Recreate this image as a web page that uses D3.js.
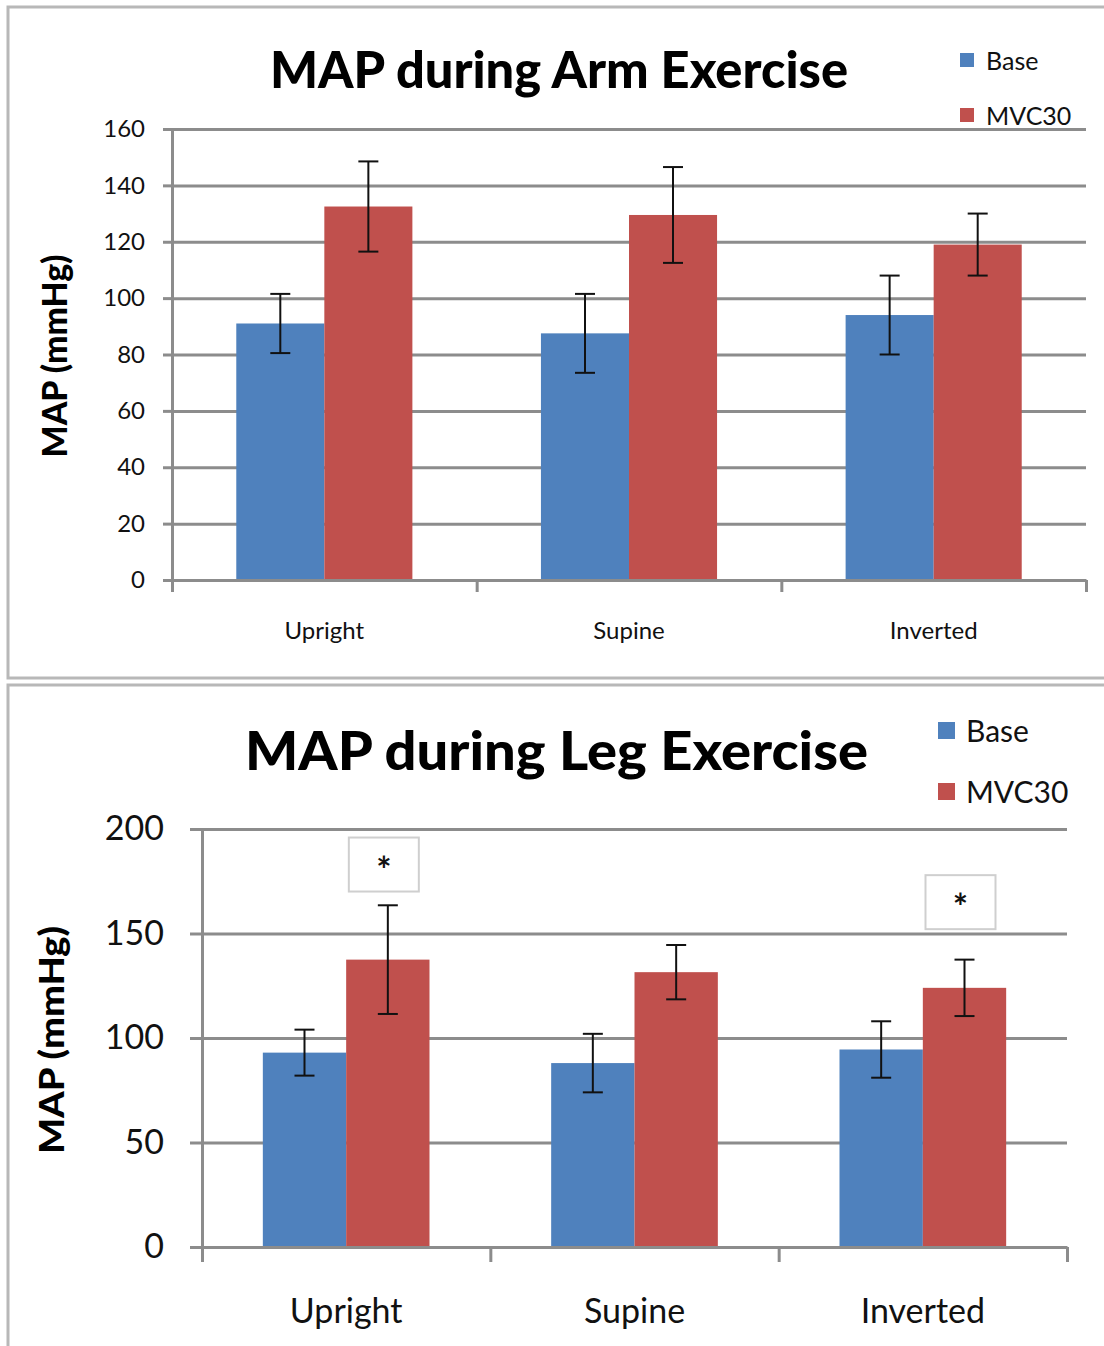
<!DOCTYPE html>
<html>
<head>
<meta charset="utf-8">
<script src="https://cdn.jsdelivr.net/npm/d3@7"></script>
<style>
  body { margin: 0; background: #fff; }
  svg { display: block; font-family: Lato, "Open Sans", sans-serif; }
</style>
</head>
<body>
<svg id="chart" width="1104" height="1346"></svg>
<script>
const categories = ["Upright", "Supine", "Inverted"];
const seriesNames = ["Base", "MVC30"];
const seriesColors = ["#4f81bd", "#c0504d"];

// arm exercise panel
const armBase = [91, 87.5, 94];
const armBaseErr = [10.5, 14, 14];
const armMvc = [132.5, 129.5, 119];
const armMvcErr = [16, 17, 11];
const armTicks = [0, 20, 40, 60, 80, 100, 120, 140, 160];

// leg exercise panel
const legBase = [93, 88, 94.5];
const legBaseErr = [11, 14, 13.5];
const legMvc = [137.5, 131.5, 124];
const legMvcErr = [26, 13, 13.5];
const legTicks = [0, 50, 100, 150, 200];
const legStars = [["Upright", 183], ["Inverted", 165]];

const fontFamily = "Lato, 'Open Sans', sans-serif";
const gridColor = "#8c8c8c";
const svg = d3.select("#chart");

const drawPanel = opt => {
  const g = svg.append("g");

  g.append("rect")
    .attr("x", opt.frame[0]).attr("y", opt.frame[1])
    .attr("width", opt.frame[2]).attr("height", opt.frame[3])
    .attr("fill", "none").attr("stroke", "#b8b8b8").attr("stroke-width", 3);

  const x = d3.scaleBand().domain(categories).range([opt.left, opt.right]);
  const xs = d3.scaleBand().domain(seriesNames).range([0, x.bandwidth()]).paddingOuter(0.73);
  const xEdge = d3.scaleLinear().domain([0, categories.length]).range([opt.left, opt.right]);
  const y = d3.scaleLinear().domain([0, d3.max(opt.ticks)]).range([opt.bottom, opt.top]);

  // gridlines
  g.append("g")
    .attr("transform", `translate(${opt.left},0)`)
    .call(d3.axisLeft(y).tickValues(opt.ticks).tickSize(-(opt.right - opt.left)).tickFormat(""))
    .call(a => a.select(".domain").remove())
    .selectAll("line").attr("stroke", gridColor).attr("stroke-width", 3);

  // bars
  const rows = categories.map((c, i) => [
    { cat: c, s: "Base", v: opt.base[i], e: opt.baseErr[i] },
    { cat: c, s: "MVC30", v: opt.mvc[i], e: opt.mvcErr[i] }
  ]).flat();

  g.append("g").selectAll("rect").data(rows).join("rect")
    .attr("x", d => x(d.cat) + xs(d.s))
    .attr("width", xs.bandwidth())
    .attr("y", d => y(d.v))
    .attr("height", d => y(0) - y(d.v))
    .attr("fill", d => seriesColors[seriesNames.indexOf(d.s)]);

  // y axis ticks + labels
  g.append("g")
    .attr("transform", `translate(${opt.left},0)`)
    .call(d3.axisLeft(y).tickValues(opt.ticks).tickSizeInner(opt.tickLen).tickSizeOuter(0).tickPadding(opt.yPad))
    .attr("font-family", fontFamily)
    .call(a => a.select(".domain").attr("stroke", gridColor).attr("stroke-width", 3))
    .call(a => a.selectAll("line").attr("stroke", gridColor).attr("stroke-width", 3))
    .call(a => a.selectAll("text").attr("fill", "#111").style("font-size", opt.tickFont + "px"));

  // x axis line and boundary ticks
  g.append("g")
    .attr("transform", `translate(0,${opt.bottom})`)
    .call(d3.axisBottom(xEdge).tickValues(d3.range(categories.length + 1)).tickSizeInner(opt.tickLen + 3).tickSizeOuter(0).tickFormat(""))
    .call(a => a.select(".domain").attr("stroke", gridColor).attr("stroke-width", 3))
    .call(a => a.selectAll("line").attr("stroke", gridColor).attr("stroke-width", 3));

  // category labels
  g.append("g")
    .attr("transform", `translate(0,${opt.bottom})`)
    .call(d3.axisBottom(x).tickSize(0).tickPadding(opt.xPad))
    .attr("font-family", fontFamily)
    .call(a => a.select(".domain").remove())
    .call(a => a.selectAll("text").attr("fill", "#111").style("font-size", opt.tickFont + "px"));

  // error bars
  const err = g.append("g").selectAll("g").data(rows).join("g")
    .attr("transform", d => `translate(${x(d.cat) + xs(d.s) + xs.bandwidth() / 2},0)`)
    .attr("stroke", "#111").attr("stroke-width", 2);
  err.append("line").attr("y1", d => y(d.v - d.e)).attr("y2", d => y(d.v + d.e));
  err.append("line").attr("x1", -10).attr("x2", 10).attr("y1", d => y(d.v - d.e)).attr("y2", d => y(d.v - d.e));
  err.append("line").attr("x1", -10).attr("x2", 10).attr("y1", d => y(d.v + d.e)).attr("y2", d => y(d.v + d.e));

  // significance boxes
  (opt.stars || []).forEach(([cat, v]) => {
    const cx = x(cat) + xs("MVC30") + xs.bandwidth() / 2 - 4;
    const cy = y(v);
    g.append("rect")
      .attr("x", cx - 35).attr("y", cy - 27).attr("width", 70).attr("height", 54)
      .attr("fill", "#fff").attr("stroke", "#cfcfcf").attr("stroke-width", 2);
    g.append("text")
      .attr("x", cx).attr("y", cy + 18)
      .attr("text-anchor", "middle").attr("font-weight", "bold")
      .style("font-size", "36px").attr("fill", "#111").text("*");
  });

  // title
  g.append("text")
    .attr("x", opt.titleX).attr("y", opt.titleY)
    .attr("font-weight", "900").style("font-size", opt.titleFont + "px")
    .attr("textLength", opt.titleLen).attr("lengthAdjust", "spacingAndGlyphs")
    .attr("fill", "#000").text(opt.title);

  // y title
  g.append("text")
    .attr("transform", `translate(${opt.yTitleX},${opt.yTitleY}) rotate(-90)`)
    .attr("text-anchor", "middle").attr("font-weight", "900")
    .style("font-size", opt.yTitleFont + "px")
    .attr("textLength", opt.yTitleLen).attr("lengthAdjust", "spacingAndGlyphs")
    .attr("fill", "#000").text("MAP (mmHg)");

  // legend
  const leg = g.append("g").selectAll("g").data(seriesNames).join("g")
    .attr("transform", (d, i) => `translate(${opt.legX},${opt.legY + i * opt.legGap})`);
  leg.append("rect")
    .attr("width", opt.legBox).attr("height", opt.legBox)
    .attr("y", -opt.legBox)
    .attr("fill", (d, i) => seriesColors[i]);
  leg.append("text")
    .attr("x", opt.legBox + opt.legTextGap).attr("y", 3)
    .style("font-size", opt.legFont + "px").attr("fill", "#111").text(d => d);
};

drawPanel({
  frame: [8, 7, 1110, 671],
  left: 172, right: 1086, top: 129, bottom: 580,
  ticks: armTicks, base: armBase, baseErr: armBaseErr, mvc: armMvc, mvcErr: armMvcErr,
  tickLen: 9, yPad: 18, xPad: 42, tickFont: 24,
  title: "MAP during Arm Exercise", titleX: 270, titleY: 88, titleFont: 52, titleLen: 578,
  yTitleX: 67, yTitleY: 356, yTitleFont: 34, yTitleLen: 203,
  legX: 960, legY: 67, legGap: 55, legBox: 14, legTextGap: 12, legFont: 25
});

drawPanel({
  frame: [8, 685, 1110, 700],
  left: 202, right: 1067, top: 829, bottom: 1247,
  ticks: legTicks, base: legBase, baseErr: legBaseErr, mvc: legMvc, mvcErr: legMvcErr,
  stars: legStars,
  tickLen: 12, yPad: 26, xPad: 52, tickFont: 34,
  title: "MAP during Leg Exercise", titleX: 245, titleY: 770, titleFont: 54, titleLen: 623,
  yTitleX: 64, yTitleY: 1040, yTitleFont: 34, yTitleLen: 228,
  legX: 938, legY: 739, legGap: 61, legBox: 17, legTextGap: 11, legFont: 30
});
</script>
</body>
</html>
